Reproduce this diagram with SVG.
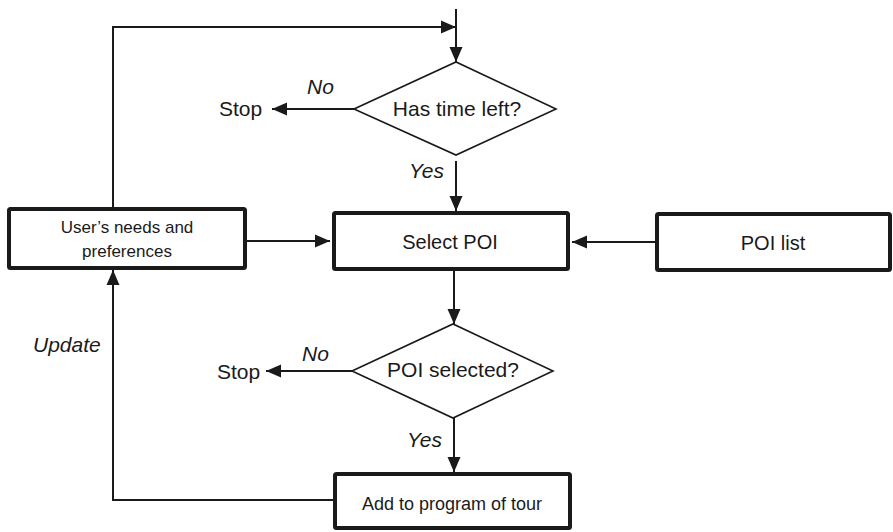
<svg xmlns="http://www.w3.org/2000/svg" width="893" height="532" viewBox="0 0 893 532">
  <style>
    .box { fill: #fff; stroke: #1a1a1a; stroke-width: 4; }
    .dia { fill: #fff; stroke: #1a1a1a; stroke-width: 1.6; }
    .ln { fill: none; stroke: #1a1a1a; stroke-width: 2; }
    .h { font-family: "Liberation Sans", Arial, sans-serif; font-size: 21px; fill: #1a1a1a; }
    .i { font-family: "Liberation Sans", Arial, sans-serif; font-size: 21px; font-style: italic; fill: #1a1a1a; }
    .c { font-family: "Liberation Sans", Arial, sans-serif; fill: #1a1a1a; text-anchor: middle; }
  </style>
  <defs>
    <marker id="ah" markerUnits="userSpaceOnUse" markerWidth="16" markerHeight="14" refX="15" refY="7" orient="auto">
      <path d="M0,0.5 L15,7 L0,13.5 Z" fill="#1a1a1a"/>
    </marker>
  </defs>
  <rect width="893" height="532" fill="#fff"/>

  <g id="connectors">
    <path class="ln" d="M456,9 L456,62" marker-end="url(#ah)"/>
    <path class="ln" d="M113,207 L113,27 L456,27" marker-end="url(#ah)"/>
    <path class="ln" d="M354,109 L272,109" marker-end="url(#ah)"/>
    <path class="ln" d="M456,161 L456,211" marker-end="url(#ah)"/>
    <path class="ln" d="M247,241 L330,241" marker-end="url(#ah)"/>
    <path class="ln" d="M655,242 L572,242" marker-end="url(#ah)"/>
    <path class="ln" d="M454,271 L454,324" marker-end="url(#ah)"/>
    <path class="ln" d="M352,371 L266,371" marker-end="url(#ah)"/>
    <path class="ln" d="M454,418 L454,472" marker-end="url(#ah)"/>
    <path class="ln" d="M333,500 L113,500 L113,270" marker-end="url(#ah)"/>
  </g>

  <g id="labels">
    <text class="h" x="219" y="116">Stop</text>
    <text class="i" x="307" y="94">No</text>
    <text class="i" x="409" y="178">Yes</text>
    <text class="h" x="217" y="379">Stop</text>
    <text class="i" x="302" y="361">No</text>
    <text class="i" x="407" y="447">Yes</text>
    <text class="i" x="33" y="352">Update</text>
  </g>

  <g id="has-time-left">
    <polygon class="dia" points="354,109 456,62 556,109 456,155"/>
    <text class="h" x="457" y="116" text-anchor="middle">Has time left?</text>
  </g>

  <g id="users-needs">
    <rect class="box" x="9" y="209" width="236" height="59" rx="1.5"/>
    <text class="c" x="127" y="233" font-size="17">User’s needs and</text>
    <text class="c" x="127" y="257" font-size="17">preferences</text>
  </g>

  <g id="select-poi">
    <rect class="box" x="334" y="213" width="234" height="56" rx="1.5"/>
    <text class="c" x="450" y="249" font-size="20">Select POI</text>
  </g>

  <g id="poi-list">
    <rect class="box" x="657" y="214" width="233" height="56" rx="1.5"/>
    <text class="c" x="773" y="250" font-size="20">POI list</text>
  </g>

  <g id="poi-selected">
    <polygon class="dia" points="352,371 453,324 553,371 453,418"/>
    <text class="h" x="453" y="377" text-anchor="middle">POI selected?</text>
  </g>

  <g id="add-to-program">
    <rect class="box" x="335" y="474" width="235" height="54" rx="1.5"/>
    <text class="c" x="452" y="510" font-size="18">Add to program of tour</text>
  </g>
</svg>
